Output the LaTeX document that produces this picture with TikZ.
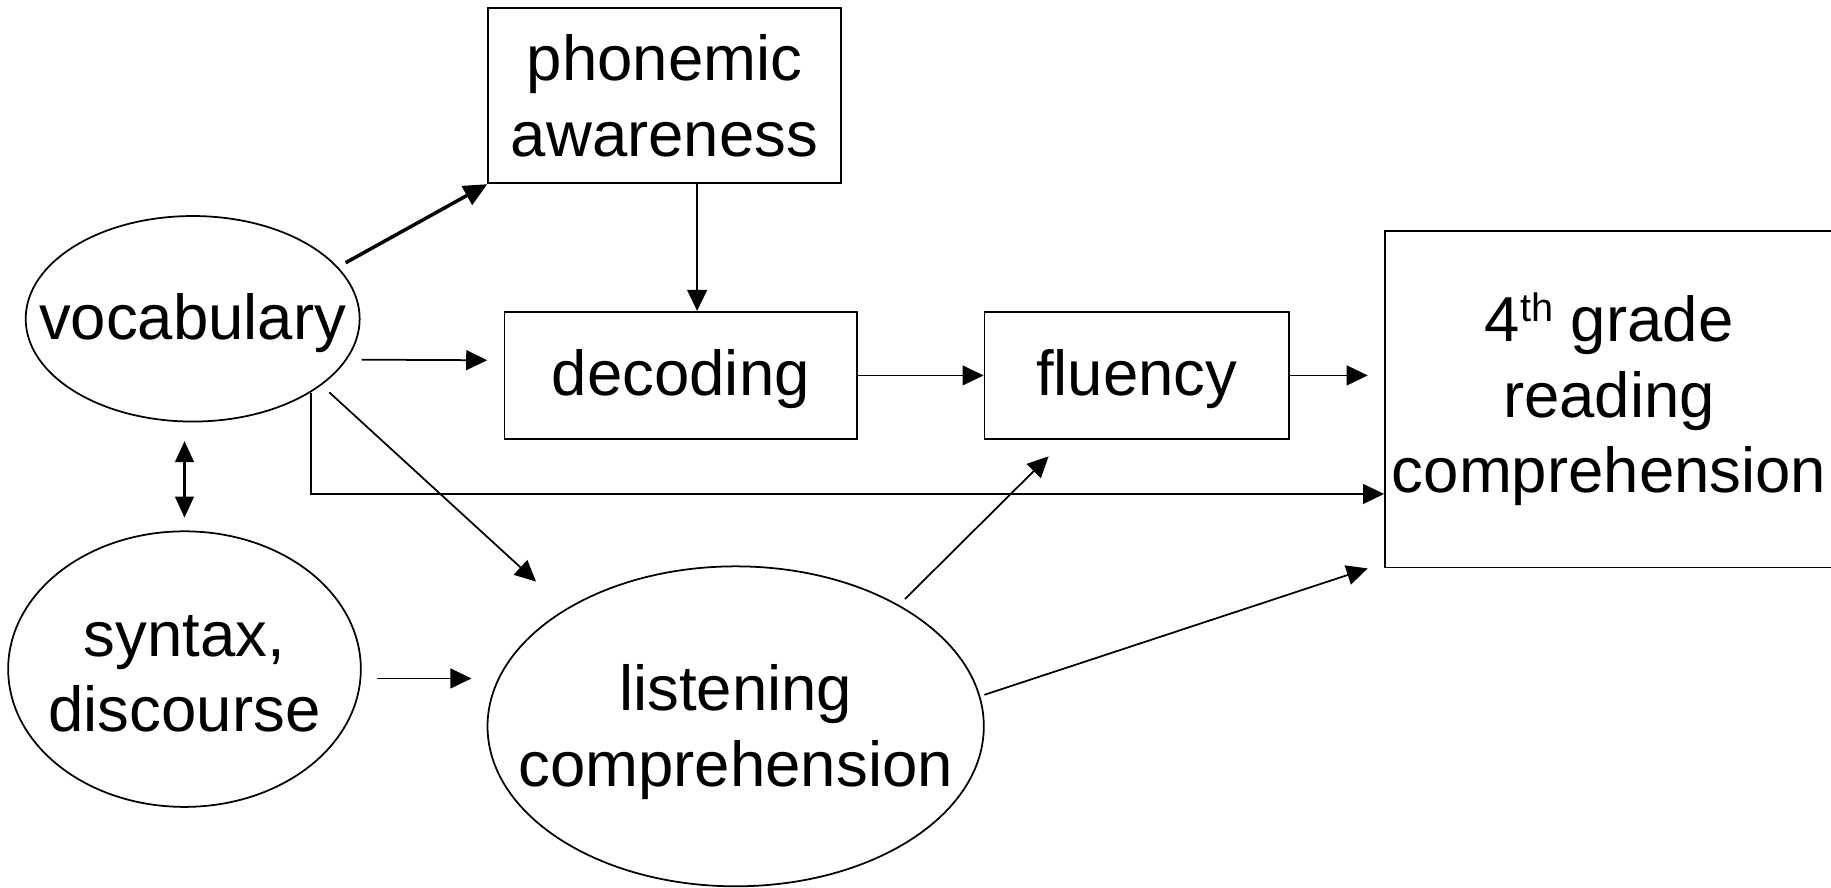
\documentclass[tikz,border=0pt]{standalone}
\usepackage{fontspec}
\setmainfont{Liberation Sans}
\usetikzlibrary{shapes.geometric,arrows.meta,calc}
\begin{document}
\begin{tikzpicture}[x=0.5pt,y=-0.5pt,
  lbl/.style={font=\fontsize{27.2}{32.5}\selectfont, align=center, inner sep=0pt},
  boxnode/.style={lbl, draw, line width=0.75pt, rectangle},
  ellnode/.style={draw, line width=0.75pt, ellipse, inner sep=0pt},
  arr/.style={line width=0.75pt, -{Triangle[length=9pt,width=8.5pt]}},
  thickarr/.style={line width=1.5pt, -{Triangle[length=10pt,width=9pt]}},
  dblarr/.style={line width=1pt, {Triangle[length=9pt,width=8pt]}-{Triangle[length=9pt,width=8pt]}}]
\useasboundingbox (0,0) rectangle (1568,760);
\fill[white] (0,0) rectangle (1568,760);

\node[boxnode, minimum width=151pt, minimum height=75pt] (ph) at (569,82) {phonemic\\awareness};
\node[ellnode, minimum width=143pt, minimum height=88pt] (voc) at (165,273) {};
\node[lbl] (voct) at ($(voc.center)+(0,4)$) {vocabulary};
\node[boxnode, minimum width=151pt, minimum height=54.5pt] (dec) at (583,321.5) {};
\node[lbl] (dect) at ($(dec.center)+(0,3)$) {decoding};
\node[boxnode, minimum width=130.5pt, minimum height=54.5pt] (flu) at (973.5,321.5) {};
\node[lbl] (flut) at ($(flu.center)+(0,3)$) {fluency};
\node[boxnode, minimum width=192pt, minimum height=144pt] (gr) at (1378,342)
  {4\raisebox{8.5pt}{\fontsize{17}{17}\selectfont th} grade\\reading\\comprehension};
\node[ellnode, minimum width=151pt, minimum height=118pt] (syn) at (158,573) {};
\node[lbl] (synt) at ($(syn.center)+(0,4)$) {syntax,\\discourse};
\node[ellnode, minimum width=212.5pt, minimum height=137pt] (lis) at (630,622) {};
\node[lbl] (list) at ($(lis.center)+(0,5)$) {listening\\comprehension};

\draw[thickarr] ($(voc.center)+(131,-48)$) -- (ph.south west);
\draw[arr] ($(ph.south)+(28,0)$) -- ($(dec.north)+(14,0)$);
\draw[arr] ($(voc.east)+(1,35)$) -- ($(dec.west)+(-14,-13)$);
\draw[arr] (dec.east) -- (flu.west);
\draw[arr] (flu.east) -- ($(gr.west |- flu.east)+(-14,0)$);
\draw[arr] (voc.-32.4) |- ($(gr.west)+(0,81)$);
\draw[arr] ($(voc.center)+(117,63)$) -- ($(lis.center)+(-171,-124)$);
\draw[dblarr] ($(voc.south)+(-7,16)$) -- ($(syn.north)+(0,-11)$);
\draw[arr] ($(syn.east)+(13,8)$) -- ($(lis.west)+(-13,-41)$);
\draw[arr] ($(lis.center)+(145,-109)$) -- ($(flu.south)+(-75.5,14)$);
\draw[arr] ($(lis.center)+(213,-27)$) -- ($(gr.south west)+(-14,0)$);
\end{tikzpicture}
\end{document}
